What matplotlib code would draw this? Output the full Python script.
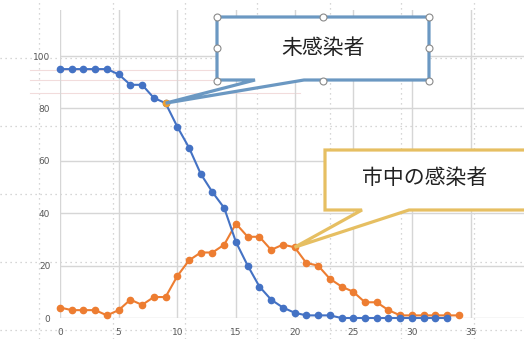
import numpy as np
import matplotlib.pyplot as plt

# data
days = list(range(35))
uninfected = [95, 95, 95, 95, 95, 93, 89, 89, 84, 82, 73, 65, 55, 48, 42, 29, 20, 12,
              7, 4, 2, 1, 1, 1, 0, 0, 0, 0, 0, 0, 0, 0, 0, 0]
infected = [4, 3, 3, 3, 1, 3, 7, 5, 8, 8, 16, 22, 25, 25, 28, 36, 31, 31,
            26, 28, 27, 21, 20, 15, 12, 10, 6, 6, 3, 1, 1, 1, 1, 1, 1]
x_ticks = [0, 5, 10, 15, 20, 25, 30, 35]
y_ticks = [0, 20, 40, 60, 80, 100]
label_uninfected = "未感染者"
label_infected = "市中の感染者"

W, H = 524, 339
fig = plt.figure(figsize=(W / 100, H / 100), dpi=100)

# ghost grid (dotted) behind everything, in pixel coords
bg = fig.add_axes([0, 0, 1, 1], zorder=0)
bg.set_xlim(0, W)
bg.set_ylim(H, 0)
bg.axis("off")
for gx in [39, 113, 185, 257, 330, 401, 474]:
    bg.axvline(gx, color="#c9c9c9", lw=0.9, ls=(0, (1, 3)))
for gy in [58, 126, 194, 262, 330]:
    bg.axhline(gy, color="#c9c9c9", lw=0.9, ls=(0, (1, 3)))
for gy in [70, 80, 93]:
    bg.plot([30, 300], [gy, gy], color="#f2dcdc", lw=0.8)

ax = fig.add_axes([60 / W, 1 - 318 / H, 1 - 60 / W, 308 / H], zorder=1)
ax.patch.set_alpha(0)
ax.set_xlim(0, 464 / 11.73)
ax.set_ylim(0, 308 / 2.62)
ax.set_xticks(x_ticks)
ax.set_yticks(y_ticks)
ax.grid(color="#d6d6d6", lw=1)
for s in ax.spines.values():
    s.set_visible(False)
ax.tick_params(length=0, labelsize=6.5, colors="#595959", pad=7)

blue = "#4472c4"
orange = "#ed7d31"
ax.plot(days[:len(uninfected)], uninfected, color=blue, lw=1.5, marker="o",
        ms=4.5, clip_on=False, zorder=3)
ax.plot(days, infected, color=orange, lw=1.5, marker="o", ms=4.5,
        clip_on=False, zorder=2)
ax.plot([9], [uninfected[9]], "o", color="#f0a030", ms=4.5, zorder=4)

# callouts in pixel coords, tails pointing at data points
ov = fig.add_axes([0, 0, 1, 1], zorder=5)
ov.set_xlim(0, W)
ov.set_ylim(H, 0)
ov.axis("off")


def to_px(x, y):
    dx, dy = ax.transData.transform((x, y))
    return dx, H - dy


tip1 = to_px(9, uninfected[9])
box1 = [(255, 80), (217, 80), (217, 17), (429, 17), (429, 80), (304, 80), tip1]
ov.add_patch(plt.Polygon(box1, closed=True, fc="white", ec="#6b98c2", lw=2.3))
ov.text(323, 48, label_uninfected, ha="center", va="center", fontsize=15,
        family=["Noto Sans CJK JP", "DejaVu Sans"], color="#222222")
for hx, hy in [(217, 17), (217, 48), (217, 81), (323, 17), (323, 81),
               (429, 17), (429, 48), (429, 81)]:
    ov.plot(hx, hy, "o", ms=5, mfc="white", mec="#8a8a8a", mew=0.8)

tip2 = to_px(20, infected[20])
box2 = [(362, 210), (325, 210), (325, 150), (540, 150), (540, 210), (409, 210), tip2]
ov.add_patch(plt.Polygon(box2, closed=True, fc="white", ec="#e6bf62", lw=2.3,
                         clip_on=True))
ov.text(425, 178, label_infected, ha="center", va="center", fontsize=15,
        family=["Noto Sans CJK JP", "DejaVu Sans"], color="#222222")

fig.savefig("out.png", dpi=100)
